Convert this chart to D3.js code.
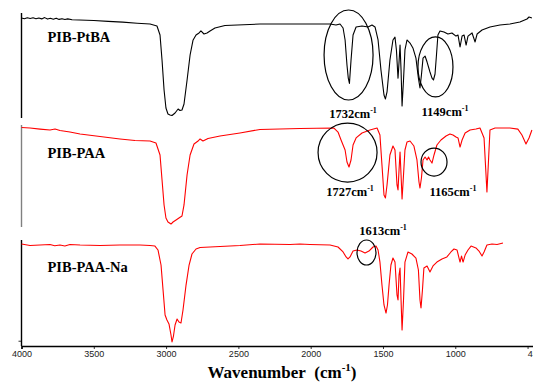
<!DOCTYPE html>
<html>
<head>
<meta charset="utf-8">
<script src="https://cdn.jsdelivr.net/npm/d3@7"></script>
<style>
  body { margin: 0; background: #fff; }
  svg { display: block; }
  .tick text { font-family: "Liberation Sans", Arial, sans-serif; font-size: 9px; fill: #222; }
  .name { font-family: "Liberation Serif", "Times New Roman", serif; font-weight: bold; font-size: 14.5px; }
  .peak { font-family: "Liberation Serif", "Times New Roman", serif; font-weight: bold; font-size: 12.5px; }
  .title { font-family: "Liberation Serif", "Times New Roman", serif; font-weight: bold; font-size: 17px; }
</style>
</head>
<body>
<div id="chart"></div>
<script>
// spectra: [wavenumber cm-1, transmittance (arb. %)]
const pibPtba = [
  [4000,95.2],[3980,94.6],[3960,95.5],[3940,94.8],[3920,95.4],[3900,94.5],[3880,95.3],[3860,94.4],
  [3840,95.6],[3820,94.2],[3800,95.0],[3780,94.0],[3760,95.1],[3740,93.9],[3720,94.6],[3700,93.8],
  [3680,94.4],[3650,93.6],[3600,93.3],[3500,92.8],[3400,92.0],[3300,91.3],[3200,90.3],[3111,89.5],
  [3063,87.6],[3042,79],[3028,55],[3014,26.7],[3001,9.5],[2987,3.8],[2973,2.9],[2959,2.4],[2938,4.8],
  [2917,8.6],[2904,7.1],[2890,7.6],[2876,13.3],[2855,36],[2834,60],[2814,74],[2793,79],[2772,81],
  [2759,82.9],[2738,80],[2717,81],[2696,82.9],[2662,85.7],[2593,88.1],[2351,89.5],[2074,89.5],
  [1866,89.5],[1825,88.6],[1797,89.5],[1776,85.7],[1762,74.3],[1749,50.5],[1740,38],[1732,33],
  [1721,55],[1707,79],[1686,86.7],[1645,87.6],[1603,86.7],[1576,88.6],[1555,86.7],[1534,74.3],
  [1514,45.7],[1493,21.9],[1483,18.1],[1472,24.8],[1452,55],[1431,74.3],[1417,77],[1407,64.8],
  [1396,38],[1389,53],[1382,69.5],[1375,45.7],[1368,11.4],[1358,36.2],[1348,64.8],[1334,74.3],
  [1313,71.4],[1293,66.7],[1272,57],[1255,38],[1244,28.6],[1234,40.9],[1223,57],[1209,59],
  [1195,53.3],[1175,43.8],[1161,38],[1151,36.2],[1140,41.9],[1130,60],[1120,79],[1106,82.9],
  [1078,81.9],[1051,80],[1023,81],[995,78],[981,79],[967,67.6],[953,78],[939,79],[925,69.5],
  [912,78],[884,81],[863,72.4],[849,80],[815,83.8],[760,86.7],[691,88.6],[622,89.5],[553,91.4],
  [504,94.3],[490,96.2],[470,95.2]
];

const pibPaa = [
  [4000,97.5],[3941,97],[3872,96],[3803,95.1],[3768,96],[3734,94.6],[3665,93.1],[3595,91.2],
  [3457,88.7],[3319,86.3],[3215,84.8],[3111,84.3],[3070,82.4],[3042,70.6],[3028,46],[3014,21.6],
  [3001,8.8],[2987,4.9],[2966,2.9],[2952,4.9],[2931,6.9],[2911,8.8],[2890,10.8],[2876,21.6],
  [2855,51],[2834,70.6],[2807,81.4],[2779,84.3],[2765,86.3],[2745,84.3],[2710,86.8],[2627,89.2],
  [2489,92.2],[2351,95.6],[2074,96.6],[1839,97],[1811,93.1],[1790,85.3],[1776,80.4],[1762,75.5],
  [1749,63.7],[1735,58.8],[1721,65.7],[1707,80.4],[1686,87.3],[1645,92.2],[1590,95.1],[1541,97],
  [1521,90.2],[1507,60.8],[1493,31.4],[1483,28.4],[1472,41.2],[1452,70.6],[1431,79.4],[1417,75.5],
  [1403,41.2],[1396,36.3],[1389,55.9],[1382,73.5],[1375,51],[1368,27.5],[1358,51],[1348,75.5],
  [1334,83.3],[1313,84.3],[1286,79.4],[1265,65.7],[1251,44.1],[1244,38.2],[1234,48],[1223,65.7],
  [1209,68.6],[1195,65.7],[1185,68.6],[1175,65.7],[1161,62.7],[1147,70.6],[1127,80.4],[1099,85.3],
  [1064,89.2],[1037,91.2],[1016,90.2],[995,88.2],[981,87.3],[967,78.4],[953,85.3],[932,92.2],
  [898,95.1],[857,96],[829,97],[815,92.2],[801,87.3],[791,60.8],[781,34.3],[770,65.7],[760,95.1],
  [725,97],[622,97],[567,96],[539,90.2],[511,81.4],[490,87.3],[470,95.1]
];

const pibPaaNa = [
  [4000,96.2],[3941,94.8],[3872,95.3],[3803,95.8],[3770,94.6],[3734,95.3],[3700,94.4],[3665,95.8],
  [3595,95.3],[3457,94.8],[3319,95.3],[3181,95.3],[3111,94.8],[3077,94.3],[3056,90.6],[3035,76.4],
  [3021,52.8],[3007,29.2],[2994,24.5],[2980,20.8],[2966,10.4],[2959,3.8],[2949,9.4],[2938,19.8],
  [2924,25.5],[2911,22.6],[2897,21.7],[2883,34],[2862,57.5],[2841,76.4],[2821,86.8],[2793,91.5],
  [2765,92.9],[2627,93.9],[2489,94.8],[2351,96.2],[2143,95.8],[2074,96.2],[2005,95.8],[1866,95.3],
  [1811,93.4],[1776,88.7],[1755,84],[1742,82.1],[1728,84],[1707,89.6],[1680,90.6],[1652,89.6],
  [1624,87.7],[1597,89.6],[1569,93.4],[1548,94.3],[1534,90.6],[1521,79.2],[1507,57.5],[1493,38.7],
  [1479,31.1],[1469,38.7],[1458,57.5],[1445,76.4],[1431,83],[1417,79.2],[1403,48.1],[1396,43.4],
  [1389,67],[1382,73.6],[1375,43.4],[1368,15.1],[1358,43.4],[1348,79.2],[1327,88.7],[1300,86.8],
  [1272,83],[1255,71.7],[1244,43.4],[1237,35.8],[1227,52.8],[1217,73.6],[1195,75.5],[1175,69.8],
  [1154,75.5],[1127,79.2],[1092,82.1],[1058,84],[1030,88.7],[1009,91.5],[988,90.6],[974,83],
  [967,79.2],[957,84.9],[946,79.2],[932,85.8],[912,90.6],[891,94.3],[857,92.5],[836,89.6],
  [815,84.9],[801,88.7],[781,95.3],[746,96.2],[711,95.8],[670,97.2]
];

const seriesNames = ["PIB-PtBA", "PIB-PAA", "PIB-PAA-Na"];
const seriesColors = ["#000000", "#ff0000", "#ff0000"];
const xTickLabels = [4000, 3500, 3000, 2500, 2000, 1500, 1000, 450];
const xTickMarks = [4000, 3500, 3000, 2500, 2000, 1500, 1000, 500, 450];

// peak annotations: panel index, wavenumber / value for the ring centre and the label
const peakLabels = ["1732", "1149", "1727", "1165", "1613"];
const peakPanel = [0, 0, 1, 1, 2];
const ringWn = [1738, 1137, 1745, 1147, 1614];
const ringVal = [60, 48.6, 73, 63.7, 88.2];
const labelWn = [1707, 1071, 1728, 1016, 1500];
const labelVal = [0, 1.9, 30.4, 30.4, 104.7];

const width = 533, height = 383;
const svg = d3.select('#chart').append('svg')
  .attr('width', width)
  .attr('height', height);

let x = d3.scaleLinear().domain([4000, 450]).range([21.5, 534.8]);
let panels = [[118, 13], [227, 125], [346, 240]].map(r => d3.scaleLinear().domain([0, 100]).range(r));
let axisColors = ['#000', '#808080', '#000'];
let ringR = [[24.5, 45], [17.5, 30], [29.5, 29.5], [13, 14], [9.5, 12.5]];

// left frame of each panel
panels.forEach((y, i) => {
  svg.append('line')
    .attr('x1', x(4000)).attr('x2', x(4000))
    .attr('y1', y.range()[1]).attr('y2', y.range()[0])
    .attr('stroke', axisColors[i])
    .attr('stroke-width', 1.4);
});

// tiny tick on the bottom panel
svg.append('line')
  .attr('x1', x(4000) - 3).attr('x2', x(4000))
  .attr('y1', panels[2](4.5)).attr('y2', panels[2](4.5))
  .attr('stroke', '#000').attr('stroke-width', 0.8);

// spectra
[pibPtba, pibPaa, pibPaaNa].forEach((data, i) => {
  let line = d3.line().x(d => x(d[0])).y(d => panels[i](d[1]));
  svg.append('path')
    .datum(data)
    .attr('d', line)
    .attr('fill', 'none')
    .attr('stroke', seriesColors[i])
    .attr('stroke-width', 1.1)
    .attr('stroke-linejoin', 'round');
});

// series names
let nameVal = [72.4, 67.6, 69.8];
seriesNames.forEach((n, i) => {
  svg.append('text')
    .attr('class', 'name')
    .attr('x', x(3820))
    .attr('y', panels[i](nameVal[i]))
    .text(n);
});

// rings and peak labels
peakLabels.forEach((p, i) => {
  let y = panels[peakPanel[i]];
  svg.append('ellipse')
    .attr('cx', x(ringWn[i]))
    .attr('cy', y(ringVal[i]))
    .attr('rx', ringR[i][0])
    .attr('ry', ringR[i][1])
    .attr('fill', 'none')
    .attr('stroke', '#000')
    .attr('stroke-width', 1.2);
  let t = svg.append('text')
    .attr('class', 'peak')
    .attr('x', x(labelWn[i]))
    .attr('y', y(labelVal[i]))
    .attr('text-anchor', 'middle');
  t.append('tspan').text(p + 'cm');
  t.append('tspan').attr('font-size', '8px').attr('dy', -5).text('-1');
});

// x axis
let xAxis = svg.append('g')
  .attr('transform', `translate(0,${panels[2].range()[0]})`)
  .call(d3.axisBottom(x).tickValues(xTickMarks).tickSize(3).tickPadding(2)
    .tickFormat(d => xTickLabels.includes(d) ? d : ''));
xAxis.select('.domain').attr('stroke-width', 1.5);
xAxis.selectAll('.tick line').attr('stroke-width', 0.8);

// axis title
let title = svg.append('text')
  .attr('class', 'title')
  .attr('x', 282)
  .attr('y', 378)
  .attr('text-anchor', 'middle');
title.append('tspan').text('Wavenumber\u00a0\u00a0(cm');
title.append('tspan').attr('font-size', '11px').attr('dy', -7).text('-1');
title.append('tspan').attr('dy', 7).text(')');
</script>
</body>
</html>
